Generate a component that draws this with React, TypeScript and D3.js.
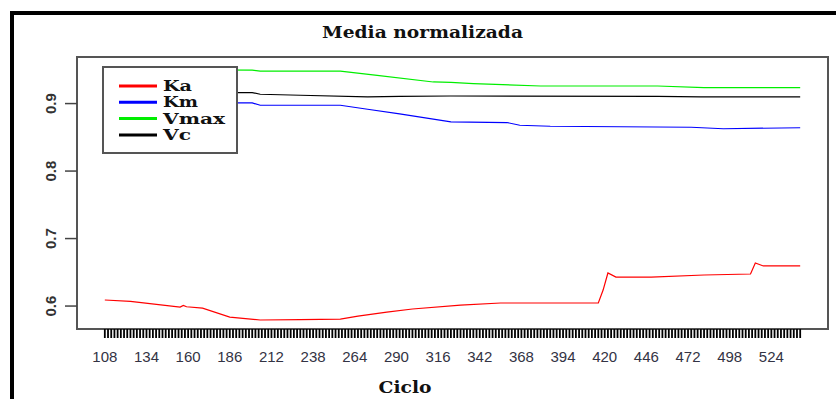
import React from "react";
import * as d3 from "d3";

// values (cycle, normalised mean)
const kaCycles = [108, 124, 155, 157, 159, 169, 186, 205, 230, 255, 266, 284, 300, 330, 355, 416, 419, 422, 427, 449, 482, 511, 514, 519, 542];
const kaValues = [0.609, 0.607, 0.5985, 0.601, 0.599, 0.597, 0.5836, 0.5793, 0.58, 0.5807, 0.5852, 0.5911, 0.5956, 0.6015, 0.6045, 0.6045, 0.6237, 0.649, 0.643, 0.643, 0.646, 0.6475, 0.6638, 0.6594, 0.6594];

const kmCycles = [108, 200, 205, 255, 272, 292, 324, 359, 367, 386, 474, 494, 542];
const kmValues = [0.9009, 0.9009, 0.8975, 0.8975, 0.8916, 0.8846, 0.8728, 0.8719, 0.8679, 0.8664, 0.8649, 0.8627, 0.8642];

const vmaxCycles = [108, 200, 205, 255, 278, 313, 324, 338, 380, 453, 482, 542];
const vmaxValues = [0.9505, 0.9495, 0.948, 0.948, 0.9419, 0.932, 0.9315, 0.9296, 0.926, 0.926, 0.9237, 0.9237];

const vcCycles = [108, 200, 205, 230, 272, 292, 324, 453, 480, 542];
const vcValues = [0.9163, 0.9163, 0.9138, 0.9123, 0.9098, 0.9108, 0.9112, 0.9108, 0.9098, 0.9098];

const seriesNames = ["Ka", "Km", "Vmax", "Vc"];
const seriesColors = ["#ff0000", "#0000ff", "#00ee00", "#000000"];
const legendWidths = [29, 35, 62, 28];

const tickLabels = [108, 134, 160, 186, 212, 238, 264, 290, 316, 342, 368, 394, 420, 446, 472, 498, 524];
const yTicks = [0.6, 0.7, 0.8, 0.9];

const App = () => {
  const width = 836;
  const height = 399;
  const left = 77, right = 828, top = 57, bottom = 329;

  const xMin = 108, xMax = 542;
  const pad = (xMax - xMin) * 0.04;
  const x = d3.scaleLinear().domain([xMin - pad, xMax + pad]).range([left, right]);
  const y = d3.scaleLinear().domain([0.566, 0.969]).range([bottom, top]);

  const series = [
    d3.zip(kaCycles, kaValues),
    d3.zip(kmCycles, kmValues),
    d3.zip(vmaxCycles, vmaxValues),
    d3.zip(vcCycles, vcValues),
  ];

  const line = d3
    .line<number[]>()
    .x((d) => x(d[0]))
    .y((d) => y(d[1]));

  // one tick every two cycles
  const minorTicks = d3.range(xMin, xMax + 1, 2);

  return (
    <svg
      width={width}
      height={height}
      style={{ position: "absolute", left: 0, top: 0, background: "#fff" }}
    >
      <rect x={12} y={13} width={900} height={500} fill="none" stroke="#000" strokeWidth={4} />

      <text
        x={422.5}
        y={38}
        textAnchor="middle"
        fontFamily="DejaVu Serif"
        fontWeight="bold"
        fontSize={17}
        textLength={201}
        lengthAdjust="spacingAndGlyphs"
        fill="#111"
      >
        Media normalizada
      </text>

      {series.map((s, i) => (
        <path key={i} d={line(s) || ""} fill="none" stroke={seriesColors[i]} strokeWidth={1.2} />
      ))}

      <rect x={left} y={top} width={right - left} height={bottom - top} fill="none" stroke="#555" strokeWidth={2} />

      {/* y axis */}
      {yTicks.map((t) => (
        <g key={t} transform={`translate(0,${y(t)})`}>
          <line x1={left - 12} x2={left} stroke="#444" strokeWidth={1.5} />
          <text
            transform={`translate(${left - 26},0) rotate(-90)`}
            textAnchor="middle"
            dy="0.35em"
            fontFamily="Liberation Sans"
            fontWeight="bold"
            fontSize={15}
            fill="#333"
          >
            {t.toFixed(1)}
          </text>
        </g>
      ))}

      {/* x axis */}
      {minorTicks.map((t) => (
        <line key={t} x1={x(t)} x2={x(t)} y1={bottom} y2={bottom + 9} stroke="#000" strokeWidth={1.8} />
      ))}
      {tickLabels.map((t) => (
        <text
          key={t}
          x={x(t)}
          y={362}
          textAnchor="middle"
          fontFamily="Liberation Sans"
          fontSize={15}
          fill="#333344"
        >
          {t}
        </text>
      ))}

      <text
        x={405}
        y={393}
        textAnchor="middle"
        fontFamily="DejaVu Serif"
        fontWeight="bold"
        fontSize={17}
        textLength={53}
        lengthAdjust="spacingAndGlyphs"
        fill="#111"
      >
        Ciclo
      </text>

      {/* legend */}
      <rect x={103} y={67} width={134} height={86} fill="#fff" stroke="#555" strokeWidth={2} />
      {seriesNames.map((n, i) => (
        <g key={n} transform={`translate(0,${86 + i * 16.3})`}>
          <line x1={119} x2={157} stroke={seriesColors[i]} strokeWidth={3} />
          <text
            x={163}
            dy="0.36em"
            fontFamily="DejaVu Serif"
            fontWeight="bold"
            fontSize={14}
            textLength={legendWidths[i]}
            lengthAdjust="spacingAndGlyphs"
            fill="#111"
          >
            {n}
          </text>
        </g>
      ))}
    </svg>
  );
};

export default App;
